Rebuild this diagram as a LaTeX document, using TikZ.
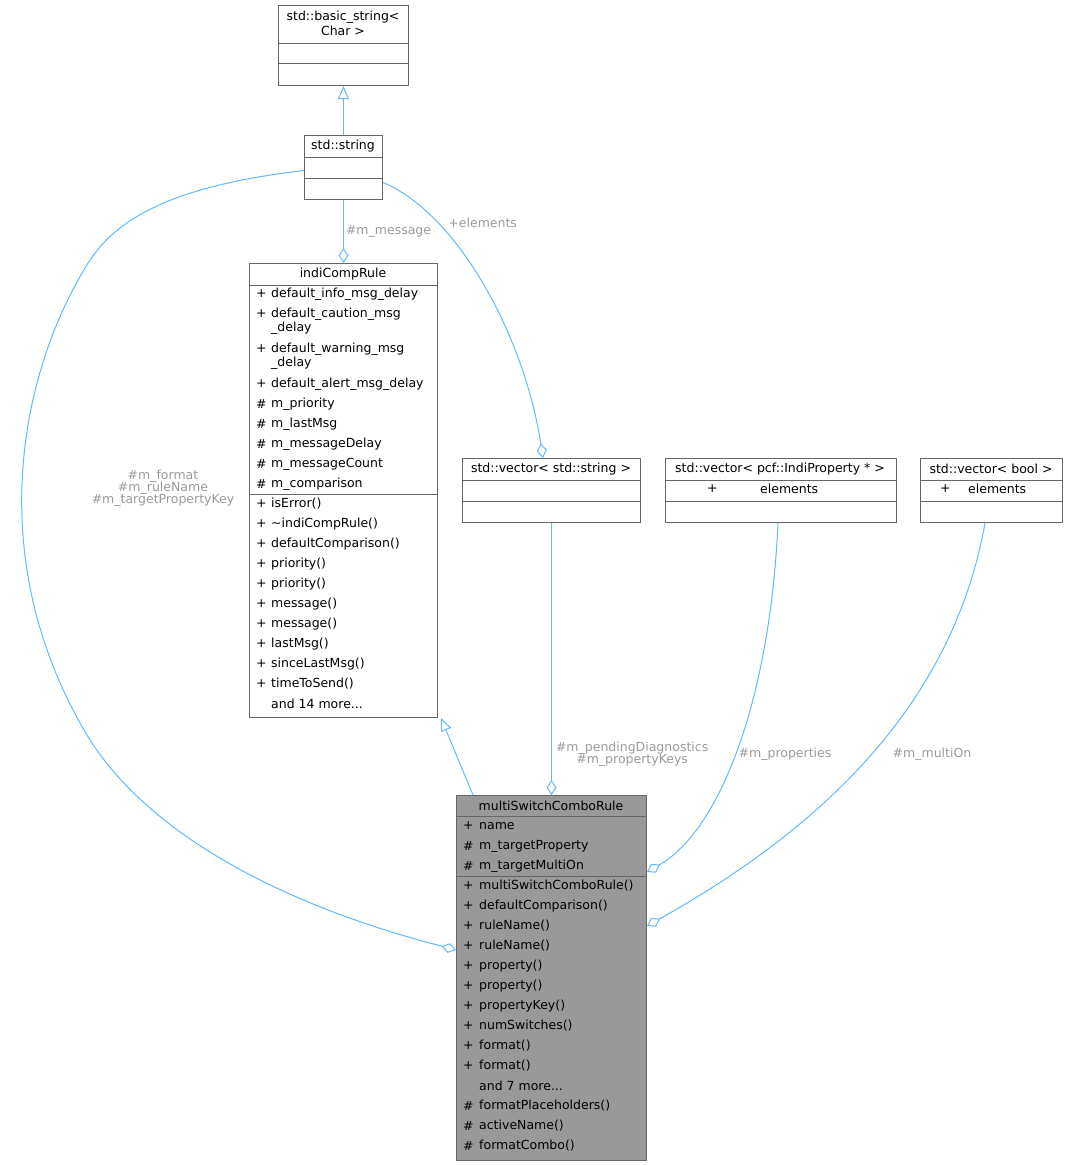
\documentclass[tikz,border=0pt]{standalone}
\usepackage{fontspec}
\setmainfont{DejaVu Sans}
\usetikzlibrary{arrows.meta, calc}
\definecolor{edgeblue}{HTML}{63B8FF}
\definecolor{boxgray}{HTML}{666666}
\definecolor{labelgray}{HTML}{9A9A9A}
\definecolor{mainfill}{HTML}{999999}
\tikzset{classbox/.style={draw=boxgray, fill=white, line width=1pt, anchor=north west, inner sep=0pt},
member/.style={anchor=west, inner sep=0pt, font=\fontsize{12.5}{15}\selectfont},
edge/.style={edgeblue, line width=1pt},
edgelabel/.style={labelgray, inner sep=2pt, font=\fontsize{12.5}{15}\selectfont, align=center}}
\newcommand{\boxdiv}[3]{\draw[boxgray, line width=1pt] (#1,#3) -- (#2,#3);}
\newcommand{\moredots}{...}
\begin{document}
\begin{tikzpicture}[x=1pt, y=-1pt,
        hollowdiamond/.tip={Diamond[open, fill=white, length=15pt, width=10pt]},
        hollowtriangle/.tip={Triangle[open, fill=white, length=13pt, width=11pt]}
    ]
        \useasboundingbox (0,0) rectangle (1068,1165);
        % Classes
        \node[classbox, minimum width=130pt, minimum height=80pt] (basicstr) at (278,5) {};
        \node[member, anchor=center, align=center] at (343,23) {std::basic\_string<\\Char >};
        \boxdiv{278}{408}{43} \boxdiv{278}{408}{63}
        \node[classbox, minimum width=78pt, minimum height=64pt] (str) at (304,135) {};
        \node[member, anchor=center] at (343,146) {std::string};
        \boxdiv{304}{382}{157} \boxdiv{304}{382}{178}
        \node[classbox, minimum width=188pt, minimum height=454pt] (rule) at (249,263) {};
        \node[member, anchor=center] at (343,274) {indiCompRule};
        \boxdiv{249}{437}{285} \boxdiv{249}{437}{494}
        \foreach \y/\s/\t in {294/+/default\_info\_msg\_delay, 314/+/default\_caution\_msg, 328//\_delay,
            349/+/default\_warning\_msg, 363//\_delay, 384/+/default\_alert\_msg\_delay,
            404/\#/m\_priority, 424/\#/m\_lastMsg, 444/\#/m\_messageDelay, 464/\#/m\_messageCount,
            484/\#/m\_comparison, 504/+/isError(), 524/+/\textasciitilde indiCompRule(),
            544/+/defaultComparison(), 564/+/priority(), 584/+/priority(), 604/+/message(),
            624/+/message(), 644/+/lastMsg(), 664/+/sinceLastMsg(), 684/+/timeToSend(), 704//and 14 more\moredots} {
            \node[member] at (256,\y) {\s};
            \node[member] at (271,\y) {\t};
        }
        \node[classbox, minimum width=178pt, minimum height=64pt] (vecstr) at (462,458) {};
        \node[member, anchor=center] at (551,469) {std::vector< std::string >};
        \boxdiv{462}{640}{480} \boxdiv{462}{640}{501}
        \node[classbox, minimum width=231pt, minimum height=64pt] (vecprop) at (665,458) {};
        \node[member, anchor=center] at (780,469) {std::vector< pcf::IndiProperty * >};
        \node[member] at (707,489) {+};
        \node[member] at (760,489) {elements};
        \boxdiv{665}{896}{480} \boxdiv{665}{896}{501}
        \node[classbox, minimum width=142pt, minimum height=64pt] (vecbool) at (920,458) {};
        \node[member, anchor=center] at (991,469) {std::vector< bool >};
        \node[member] at (940,489) {+};
        \node[member] at (968,489) {elements};
        \boxdiv{920}{1062}{480} \boxdiv{920}{1062}{501}
        \node[classbox, fill=mainfill, minimum width=190pt, minimum height=365pt] (combo) at (456,795) {};
        \node[member, anchor=center] at (551,806) {multiSwitchComboRule};
        \boxdiv{456}{646}{816} \boxdiv{456}{646}{876}
        \foreach \y/\s/\t in {826/+/name, 846/\#/m\_targetProperty, 866/\#/m\_targetMultiOn,
            886/+/multiSwitchComboRule(), 906/+/defaultComparison(), 926/+/ruleName(), 946/+/ruleName(),
            966/+/property(), 986/+/property(), 1006/+/propertyKey(), 1026/+/numSwitches(),
            1046/+/format(), 1066/+/format(), 1086//and 7 more\moredots, 1106/\#/formatPlaceholders(),
            1126/\#/activeName(), 1146/\#/formatCombo()} {
            \node[member] at (463,\y) {\s};
            \node[member] at (479,\y) {\t};
        }
        % Inheritance
        \draw[edge, hollowtriangle-] (basicstr.south) -- (str.north);
        \draw[edge, hollowtriangle-] ($(rule.south east)+(3,0)$) -- ($(combo.north west)+(17,0)$);
        % Members
        \draw[edge, hollowdiamond-] (rule.north) -- node[edgelabel, right, pos=0.5] {\#m\_message} (str.south);
        \draw[edge, hollowdiamond-] ($(vecstr.north west)+(81,0)$) .. controls (525,340) and (460,215) .. ($(str.east)+(0,15)$)
            node[edgelabel, pos=0.75, right=8pt] {+elements};
        \draw[edge, hollowdiamond-] ($(combo.north west)+(0,155)$) .. controls (400,935) and (180,880) .. (90,740)
            .. controls (-20,560) and (20,370) .. (90,260) .. controls (120,215) and (180,185) .. ($(str.west)+(0,3)$);
        \node[edgelabel] at (163,488) {\#m\_format\\[-3pt]\#m\_ruleName\\[-3pt]\#m\_targetPropertyKey};
        \draw[edge, hollowdiamond-] (combo.north) -- node[edgelabel, pos=0.15, right=2pt] {\#m\_pendingDiagnostics\\[-3pt]\#m\_propertyKeys} (vecstr.south);
        \draw[edge, hollowdiamond-] ($(combo.north east)+(0,77)$) .. controls (720,830) and (770,700) .. ($(vecprop.south west)+(113,0)$);
        \node[edgelabel] at (785,754) {\#m\_properties};
        \draw[edge, hollowdiamond-] ($(combo.north east)+(0,131)$) .. controls (800,840) and (950,720) .. ($(vecbool.south west)+(65,0)$);
        \node[edgelabel] at (932,754) {\#m\_multiOn};
    \end{tikzpicture}
\end{document}
